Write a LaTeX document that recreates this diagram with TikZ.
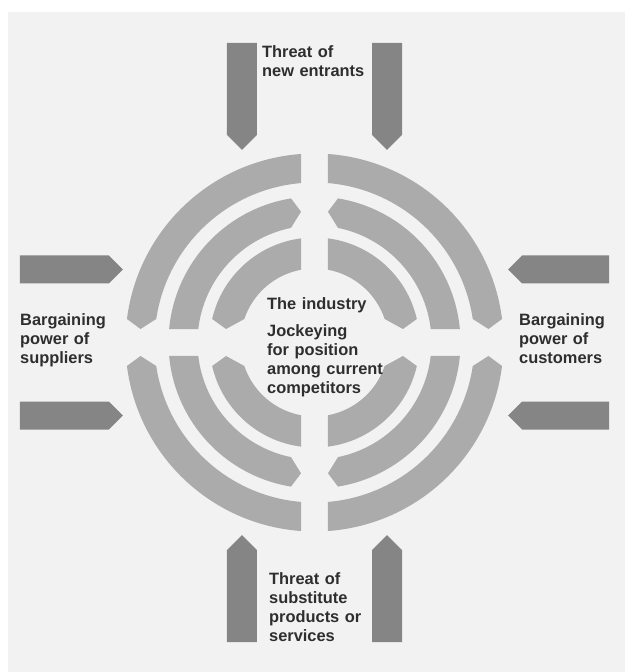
\documentclass[tikz,border=0pt]{standalone}
\usepackage{fontspec}
\setmainfont{Liberation Sans}
\definecolor{paper}{HTML}{F2F2F2}
\definecolor{ringgray}{HTML}{ABABAB}
\definecolor{forcegray}{HTML}{858585}
\definecolor{textgray}{HTML}{2E2E2E}
\newcommand\hgap{13.5}
\newcommand\cham{10}
% segment in quadrant I: flat end at the vertical gap, pointed end at the horizontal gap
\newcommand\segFlatV[2]{%
  \pgfmathsetmacro\rA{#1}\pgfmathsetmacro\rB{#2}\pgfmathsetmacro\rM{(#1+#2)/2}%
  \fill[ringgray] ({acos(\hgap/\rB)}:\rB)
    arc[start angle={acos(\hgap/\rB)}, end angle={asin((\hgap+\cham)/\rB)}, radius=\rB]
    -- ({asin(\hgap/\rM)}:\rM)
    -- ({asin((\hgap+\cham)/\rA)}:\rA)
    arc[start angle={asin((\hgap+\cham)/\rA)}, end angle={acos(\hgap/\rA)}, radius=\rA]
    -- cycle;}
% segment in quadrant I: pointed end at the vertical gap, flat end at the horizontal gap
\newcommand\segPointV[2]{%
  \pgfmathsetmacro\rA{#1}\pgfmathsetmacro\rB{#2}\pgfmathsetmacro\rM{(#1+#2)/2}%
  \fill[ringgray] ({acos((\hgap+\cham)/\rB)}:\rB)
    arc[start angle={acos((\hgap+\cham)/\rB)}, end angle={asin(\hgap/\rB)}, radius=\rB]
    -- ({asin(\hgap/\rA)}:\rA)
    arc[start angle={asin(\hgap/\rA)}, end angle={acos((\hgap+\cham)/\rA)}, radius=\rA]
    -- ({acos(\hgap/\rM)}:\rM)
    -- cycle;}
\begin{document}
\begin{tikzpicture}[x=1pt,y=1pt,
  lbl/.style={anchor=base west, inner sep=0pt, text width=125pt, align=left,
    text=textgray, font=\bfseries\fontsize{16.4}{19}\selectfont},
  force/.style={fill=forcegray}]
\useasboundingbox (-314.5,-329.5) rectangle (310.5,342.5);
\fill[white] (-314.5,-329.5) rectangle (310.5,342.5);
\fill[paper] (-306.5,-329.5) rectangle (310.5,330.5);
% rings
\foreach \sx/\sy in {1/1,-1/1,1/-1,-1/-1}{
  \begin{scope}[xscale=\sx,yscale=\sy]
    \segFlatV{160}{189}
    \segPointV{117}{146}
    \segFlatV{74}{105}
  \end{scope}
}
% forces: top
\foreach \c in {-72.5,72.5}{
  \fill[force] (\c-15,299.5) -- (\c+15,299.5) -- (\c+15,207.5) -- (\c,192.5) -- (\c-15,207.5) -- cycle;
  \fill[force] (\c-15,-299.5) -- (\c+15,-299.5) -- (\c+15,-207.5) -- (\c,-192.5) -- (\c-15,-207.5) -- cycle;
}
\foreach \c in {-73,73}{
  \fill[force] (-294.5,\c-14) -- (-294.5,\c+14) -- (-205.5,\c+14) -- (-191.5,\c) -- (-205.5,\c-14) -- cycle;
  \fill[force] (294.5,\c-14) -- (294.5,\c+14) -- (207.5,\c+14) -- (193.5,\c) -- (207.5,\c-14) -- cycle;
}
% labels
\node[lbl] (entrants) at (-52.5,284.5) {Threat of\\new entrants};
\node[lbl] (suppliers) at (-294.5,16.5) {Bargaining\\power of\\suppliers};
\node[lbl] (customers) at (204.5,16.5) {Bargaining\\power of\\customers};
\node[lbl] (substitutes) at (-45.5,-241.8) {Threat of\\substitute\\products or\\services};
\node[lbl] (industry) at (-47.5,33.5) {The industry\\[8.7pt]Jockeying\\for position\\among current\\competitors};
\end{tikzpicture}
\end{document}
